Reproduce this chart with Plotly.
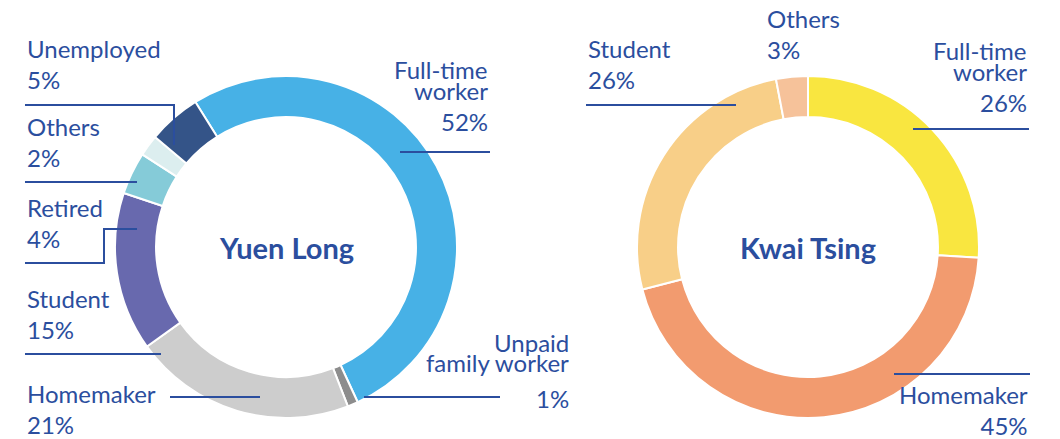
import plotly.graph_objects as go

W, H = 1060, 439

# Data
yl_labels = ["Full-time worker", "Unpaid family worker", "Homemaker", "Student", "Retired", "Others", "Unemployed"]
yl_values = [52, 1, 21, 15, 4, 2, 5]
yl_colors = ["#47B1E6", "#8D8D8D", "#CDCDCD", "#6869AE", "#85CBD8", "#DCEEEF", "#345488"]

kt_labels = ["Full-time worker", "Homemaker", "Student", "Others"]
kt_values = [26, 45, 26, 3]
kt_colors = ["#F9E640", "#F29B6F", "#F8CF88", "#F6C29A"]

TXT = "#2B4E9E"
FONT = "Lato"
FS = 24
OFF = 10

def px(x):
    return x / W

def py(y):
    return 1 - y / H

fig = go.Figure()
fig.add_trace(go.Pie(
    labels=yl_labels, values=yl_values, sort=False, direction="clockwise",
    rotation=-32, hole=0.76, textinfo="none", hoverinfo="label+percent",
    marker=dict(colors=yl_colors, line=dict(color="white", width=2)),
    domain=dict(x=[px(286 - 171), px(286 + 171)], y=[py(247 + 171), py(247 - 171)]),
    showlegend=False,
))
fig.add_trace(go.Pie(
    labels=kt_labels, values=kt_values, sort=False, direction="clockwise",
    rotation=0, hole=0.76, textinfo="none", hoverinfo="label+percent",
    marker=dict(colors=kt_colors, line=dict(color="white", width=2)),
    domain=dict(x=[px(808 - 171), px(808 + 171)], y=[py(247 + 171), py(247 - 171)]),
    showlegend=False,
))

def pct(v):
    return f"{v}%"

annots = []
def lab(text, x, captop, align):
    annots.append(dict(
        text=text, x=px(x), y=py(captop - OFF), xref="paper", yref="paper",
        xanchor=align, yanchor="top", align=align, showarrow=False,
        font=dict(family=FONT, size=FS, color=TXT),
    ))

# Yuen Long labels
lab("Unemployed<br>" + pct(yl_values[6]), 25, 42, "left")
lab("Others<br>" + pct(yl_values[5]), 25, 120, "left")
lab("Retired<br>" + pct(yl_values[4]), 25, 201, "left")
lab("Student<br>" + pct(yl_values[3]), 25, 292, "left")
lab("Homemaker<br>" + pct(yl_values[2]), 25, 387, "left")
lab("Full-time", 490, 63, "right")
lab("worker", 490, 84, "right")
lab(pct(yl_values[0]), 490, 115, "right")
lab("Unpaid", 571, 336, "right")
lab("family worker", 571, 356, "right")
lab(pct(yl_values[1]), 571, 392, "right")

# Kwai Tsing labels
lab("Student<br>" + pct(kt_values[2]), 586, 42, "left")
lab("Others<br>" + pct(kt_values[3]), 765, 12, "left")
lab("Full-time", 1029, 44, "right")
lab("worker", 1029, 65, "right")
lab(pct(kt_values[0]), 1029, 96, "right")
lab("Homemaker<br>" + pct(kt_values[1]), 1030, 388, "right")

# Centre titles
for name, cx in [("Yuen Long", 286), ("Kwai Tsing", 808)]:
    annots.append(dict(
        text="<b>" + name + "</b>", x=px(cx), y=py(247), xref="paper", yref="paper",
        xanchor="center", yanchor="middle", showarrow=False,
        font=dict(family=FONT, size=29, color=TXT),
    ))

# Leader lines (pixel paths)
paths = [
    [(25, 105), (174, 105), (174, 145)],
    [(25, 182), (137, 182)],
    [(25, 263), (104, 263), (104, 229), (137, 229)],
    [(25, 354), (161, 354)],
    [(170, 397), (260, 397)],
    [(400, 152), (490, 152)],
    [(364, 397), (500, 397)],
    [(586, 105), (736, 105)],
    [(913, 129), (1029, 129)],
    [(894, 374), (1030, 374)],
]
shapes = []
for p in paths:
    d = "M " + " L ".join(f"{px(x):.5f},{py(y):.5f}" for x, y in p)
    shapes.append(dict(type="path", path=d, xref="paper", yref="paper",
                       line=dict(color=TXT, width=2), layer="above"))

fig.update_layout(
    width=W, height=H, margin=dict(l=0, r=0, t=0, b=0),
    paper_bgcolor="white", plot_bgcolor="white",
    annotations=annots, shapes=shapes,
    font=dict(family=FONT, color=TXT),
)

fig.write_html("out.html", config={"displayModeBar": False},
               post_script="document.body.style.margin='0';document.body.style.overflow='hidden';")
